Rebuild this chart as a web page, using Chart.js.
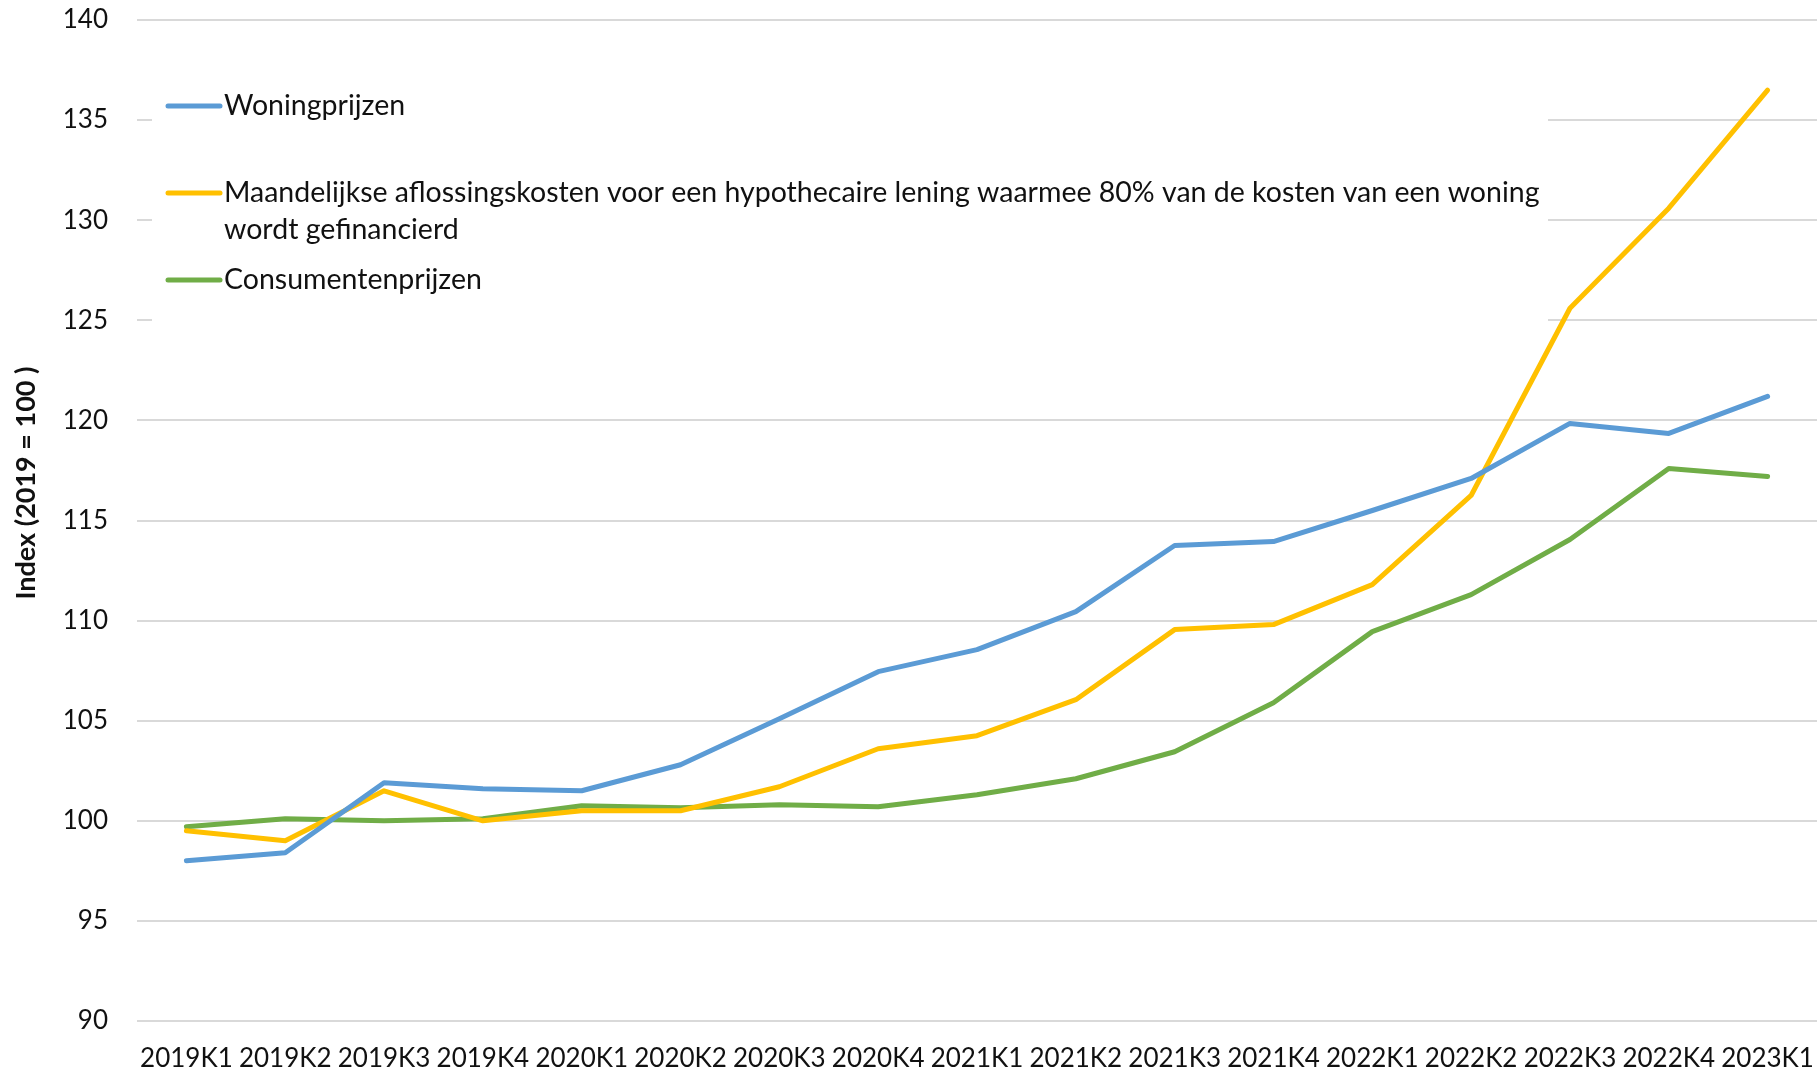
<!DOCTYPE html>
<html>
<head>
<meta charset="utf-8">
<script src="https://cdn.jsdelivr.net/npm/chart.js@4.4.1/dist/chart.umd.min.js"></script>
<style>
  html, body { margin: 0; padding: 0; background: #fff; overflow: hidden; }
  #wrap { width: 1817px; height: 1076px; }
</style>
</head>
<body>
<div id="wrap"><canvas id="chartIndex" width="1817" height="1076"></canvas></div>
<script>
// kwartalen + indexcijfers (2019 = 100)
const kwartalen = [
  "2019K1", "2019K2", "2019K3", "2019K4", "2020K1", "2020K2", "2020K3", "2020K4",
  "2021K1", "2021K2", "2021K3", "2021K4", "2022K1", "2022K2", "2022K3", "2022K4", "2023K1"
];
const woningprijzen = [
  98.0, 98.4, 101.9, 101.6, 101.5, 102.8, 105.1, 107.45,
  108.55, 110.45, 113.75, 113.95, 115.5, 117.1, 119.85, 119.35, 121.2
];
const aflossingskosten = [
  99.5, 99.0, 101.5, 100.0, 100.5, 100.5, 101.7, 103.6,
  104.25, 106.05, 109.55, 109.8, 111.8, 116.25, 125.6, 130.6, 136.5
];
const consumentenprijzen = [
  99.7, 100.1, 100.0, 100.1, 100.75, 100.65, 100.8, 100.7,
  101.3, 102.1, 103.45, 105.9, 109.45, 111.3, 114.05, 117.6, 117.2
];
const yMin = 90;
const yMax = 140;
const yStap = 5;

const reeksNamen = [
  "Woningprijzen",
  "Maandelijkse aflossingskosten voor een hypothecaire lening waarmee 80% van de kosten van een woning wordt gefinancierd",
  "Consumentenprijzen"
];
// zoals in het origineel afgebroken
const legendaRegels = [
  ["Woningprijzen"],
  ["Maandelijkse aflossingskosten voor een hypothecaire lening waarmee 80% van de kosten van een woning", "wordt gefinancierd"],
  ["Consumentenprijzen"]
];
const asTitel = "Index (2019 = 100 )";
const kleuren = ["#5B9BD5", "#FFC000", "#70AD47"];

const FONT = 'Lato, "Open Sans", sans-serif';
const TEKST = "#111111";

// legenda binnen het plotvlak, met witte achtergrond over de rasterlijnen
const legendaPlugin = {
  id: "legenda",
  beforeDatasetsDraw(chart) {
    const { ctx, chartArea } = chart;
    const left = chartArea.left;
    ctx.save();
    ctx.fillStyle = "#ffffff";
    ctx.fillRect(left + 15, 45, 1548 - (left + 15), 290);

    const rijY = [[106], [193, 230], [280]];
    ctx.font = "28.5px " + FONT;
    ctx.textBaseline = "middle";
    ctx.textAlign = "left";
    chart.data.datasets.forEach((ds, i) => {
      const y0 = rijY[i][0];
      ctx.strokeStyle = ds.borderColor;
      ctx.lineWidth = 5;
      ctx.lineCap = "round";
      ctx.beginPath();
      ctx.moveTo(left + 31, y0);
      ctx.lineTo(left + 83, y0);
      ctx.stroke();
      ctx.fillStyle = TEKST;
      legendaRegels[i].forEach((regel, r) => {
        ctx.fillText(regel, left + 87, rijY[i][r]);
      });
    });

    // astitel (staat in het origineel iets boven het midden)
    ctx.translate(26, 483);
    ctx.rotate(-Math.PI / 2);
    ctx.font = "bold 27px " + FONT;
    ctx.textAlign = "center";
    ctx.fillText(asTitel, 0, 0);
    ctx.restore();
  }
};

const elChart = document.getElementById("chartIndex");
new Chart(elChart, {
  type: "line",
  data: {
    labels: kwartalen,
    datasets: [
      { label: reeksNamen[0], data: woningprijzen, borderColor: kleuren[0] },
      { label: reeksNamen[1], data: aflossingskosten, borderColor: kleuren[1] },
      { label: reeksNamen[2], data: consumentenprijzen, borderColor: kleuren[2] }
    ]
  },
  options: {
    responsive: false,
    devicePixelRatio: 1,
    animation: false,
    layout: { padding: { top: 20, right: 0, bottom: 0, left: 0 } },
    elements: {
      line: {
        borderWidth: 5,
        tension: 0,
        fill: false,
        borderCapStyle: "round",
        borderJoinStyle: "round"
      },
      point: { radius: 0, hoverRadius: 0 }
    },
    plugins: {
      legend: { display: false },
      tooltip: { enabled: false }
    },
    scales: {
      x: {
        offset: true,
        grid: { display: false, drawTicks: false },
        border: { display: false },
        ticks: {
          autoSkip: false,
          maxRotation: 0,
          minRotation: 0,
          padding: 22,
          color: TEKST,
          font: { family: FONT, size: 26 }
        },
        afterFit: (scale) => {
          scale.height = 55;
          scale.paddingLeft = 0;
          scale.paddingRight = 0;
        }
      },
      y: {
        min: yMin,
        max: yMax,
        grid: { color: "#D9D9D9", lineWidth: 2, drawTicks: false },
        border: { display: false },
        ticks: {
          stepSize: yStap,
          padding: 29,
          color: TEKST,
          font: { family: FONT, size: 26 }
        },
        afterFit: (scale) => {
          scale.width = 137;
          scale.paddingTop = 0;
          scale.paddingBottom = 0;
        }
      }
    }
  },
  plugins: [legendaPlugin]
});
</script>
</body>
</html>
